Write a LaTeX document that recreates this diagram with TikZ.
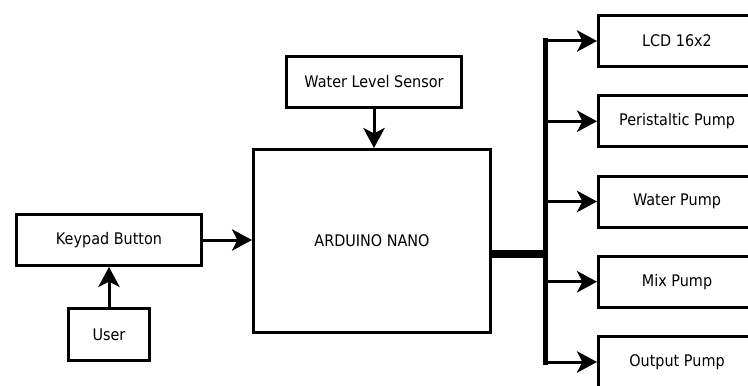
\documentclass[tikz,border=0pt]{standalone}
\usepackage{fontspec}
\setmainfont{DejaVu Sans}[FakeStretch=0.9]
\usepackage{tikz}
\usetikzlibrary{arrows.meta,positioning}

\begin{document}
\begin{tikzpicture}[
  x=0.75pt,y=-0.75pt,
  every node/.style={font=\fontsize{12}{14}\selectfont,align=center},
  box/.style={draw=black,line width=2.25pt,minimum height=38.25pt,minimum width=117.75pt,inner sep=0pt,fill=white},
  arrow/.style={-{Stealth[length=15pt,width=16pt,inset=4pt]},line width=2.25pt},
  bus/.style={line width=6pt},
  busv/.style={line width=3.75pt,line cap=rect}
]
\useasboundingbox (0,0) rectangle (748,385);
\clip (0,0) rectangle (748,385);
\node[box,minimum width=138.75pt] (keypad) at (109,240) {Keypad Button};
\node[box,minimum width=60.75pt,minimum height=39pt] (user) at (109,334.5) {User};
\node[box,minimum width=131.25pt] (sensor) at (374,82) {Water Level Sensor};
\node[box,minimum width=177.75pt,minimum height=137.25pt] (nano) at (372,241) {ARDUINO NANO};
\node[box] (lcd) at (677,41) {LCD 16x2};
\node[box] (peri) at (677,121.25) {Peristaltic Pump};
\node[box] (wpump) at (677,201.5) {Water Pump};
\node[box] (mix) at (677,281.75) {Mix Pump};
\node[box] (outpump) at (677,362) {Output Pump};
\coordinate (split) at (545,254);

\draw[arrow] (user) -- (keypad);
\draw[arrow] (keypad) -- (keypad -| nano.west);
\draw[arrow] (sensor) -- (sensor.south |- nano.north);
\draw[bus] (nano.east |- split) -- (split);
\draw[busv] (lcd -| split) -- (outpump -| split);
\foreach \n in {lcd,peri,wpump,mix,outpump}
  \draw[arrow] (\n -| split) -- (\n);
\end{tikzpicture}
\end{document}
